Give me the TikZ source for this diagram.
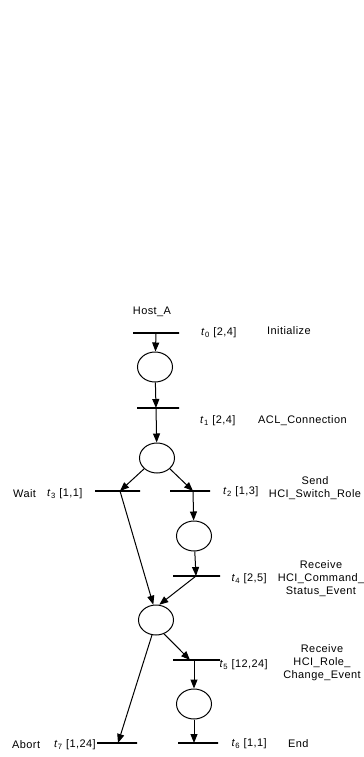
\documentclass[tikz,border=0pt]{standalone}
\usepackage{fontspec}
\setmainfont[LetterSpace=4]{Liberation Sans}
\usetikzlibrary{arrows.meta,shapes.geometric,calc}
\begin{document}
\begin{tikzpicture}[x=1bp,y=-1bp,
  place/.style={draw,ellipse,minimum width=35bp,minimum height=30bp,inner sep=0pt,line width=1bp},
  bar/.style={draw,line width=1.1bp,inner sep=0pt,minimum height=0pt,rectangle,minimum width=#1},
  arc/.style={line width=1bp,-{Triangle[length=9bp,width=7bp]}},
  lbl/.style={font=\fontsize{11}{13}\selectfont,inner sep=0pt},
]
\fill[white] (0,0) rectangle (363,757);
\useasboundingbox (0,0) rectangle (363,757);
% transitions (bars)
\node[bar=46bp] (t0) at (156,333) {};
\node[bar=42bp] (t1) at (158,408) {};
\node[bar=45bp] (t3) at (117.5,491) {};
\node[bar=40bp] (t2) at (190,491) {};
\node[bar=47bp] (t4) at (196.5,576) {};
\node[bar=47bp] (t5) at (196.5,660) {};
\node[bar=40bp] (t6) at (198,743) {};
\node[bar=40bp] (t7) at (117,743) {};
% connection points on bars
\coordinate (c0) at (156,333);
\coordinate (c1) at (156,408);
\coordinate (c3) at (120,491);
\coordinate (c2) at (193,491);
\coordinate (c4) at (196,576);
\coordinate (c5in) at (190,660);
\coordinate (c5out) at (194,660);
\coordinate (c6) at (194,743);
\coordinate (c7) at (118,743);
% places
\node[place] (p1) at (155,367) {};
\node[place] (p2) at (157,458) {};
\node[place] (p3) at (194,536) {};
\node[place] (p4) at (156,620) {};
\node[place] (p5) at (194,704) {};
% arcs
\draw[arc] (c0) -- (p1);
\draw[arc] (p1) -- (c1);
\draw[arc] (c1) -- (p2);
\draw[arc] (p2.-140) -- (c3);
\draw[arc] (p2.-40) -- (c2);
\draw[arc] (c2) -- (p3);
\draw[arc] (p3) -- (c4);
\draw[arc] (c4) -- (p4.78);
\draw[arc] (c3) -- (p4.100);
\draw[arc] (p4.-60) -- (c5in);
\draw[arc] (p4.-105) -- (c7);
\draw[arc] (c5out) -- (p5);
\draw[arc] (p5) -- (c6);
% labels
\node[lbl] (hosta) at (152,312) {Host\_A};
\node[lbl,anchor=west] (l0) at (201,333) {\textit{t}\textsubscript{0} [2,4]};
\node[lbl,anchor=west] (n0) at (267,331) {Initialize};
\node[lbl,anchor=west] (l1) at (200,421) {\textit{t}\textsubscript{1} [2,4]};
\node[lbl,anchor=west] (n1) at (258,421) {ACL\_Connection};
\node[lbl,anchor=west] (n3) at (13,494) {Wait};
\node[lbl,anchor=west] (l3) at (47,494) {\textit{t}\textsubscript{3} [1,1]};
\node[lbl,anchor=west] (l2) at (223,492) {\textit{t}\textsubscript{2} [1,3]};
\node[lbl,align=center] (n2) at (315,488) {Send\\HCI\_Switch\_Role};
\node[lbl,anchor=east] (l4) at (267,579) {\textit{t}\textsubscript{4} [2,5]};
\node[lbl,align=center] (n4) at (321,579) {Receive\\HCI\_Command\_\\Status\_Event};
\node[lbl,anchor=east] (l5) at (268,665) {\textit{t}\textsubscript{5} [12,24]};
\node[lbl,align=center] (n5) at (322,663) {Receive\\HCI\_Role\_\\Change\_Event};
\node[lbl,anchor=east] (l6) at (267,744) {\textit{t}\textsubscript{6} [1,1]};
\node[lbl,anchor=west] (n6) at (288,744) {End};
\node[lbl,anchor=west] (n7) at (12,745) {Abort};
\node[lbl,anchor=east] (l7) at (96,745) {\textit{t}\textsubscript{7} [1,24]};
\end{tikzpicture}
\end{document}
